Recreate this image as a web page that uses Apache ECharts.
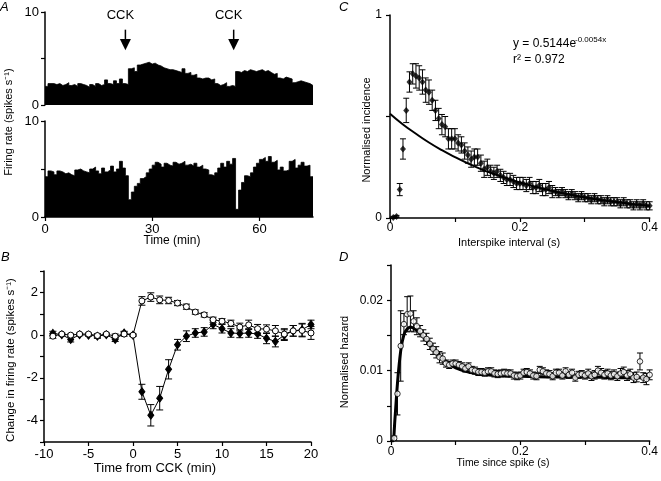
<!DOCTYPE html>
<html><head><meta charset="utf-8">
<script src="https://cdn.jsdelivr.net/npm/echarts@6/dist/echarts.min.js"></script>
<style>html,body{margin:0;padding:0;background:#fff}#c{width:661px;height:481px}</style>
</head><body><div id="c"></div>
<script>
const FONT = '"Liberation Sans", Arial, Helvetica, sans-serif';

// ---------- Panel A: firing-rate histograms (50 s bins, minutes) ----------
const BIN_A = 5 / 6; // minutes per bin
const rateTop = [2.0, 2.3, 2.3, 2.2, 2.3, 2.1, 2.2, 2.4, 2.1, 2.2, 2.0, 2.3, 2.2, 2.1, 1.9, 2.2, 2.0, 2.3, 2.1, 2.2, 2.7, 2.3, 2.2, 2.6, 2.3, 2.8, 2.3, 2.2,
  3.9, 4.0, 3.6, 4.3, 4.4, 4.5, 4.6, 4.4, 4.5, 4.3,
  4.2, 4.0, 3.9, 3.8, 3.8, 3.7, 3.6, 3.5, 3.9, 3.4, 3.5,
  3.2, 3.3, 2.9, 2.8, 2.9, 2.9, 2.7, 2.8,
  2.3, 2.1, 2.2, 2.4, 2.0, 2.1, 2.0,
  3.6, 3.5, 3.7, 3.6, 3.8, 3.7, 3.6, 3.7, 3.8, 3.6, 3.7, 3.5,
  3.3, 3.4, 2.9, 2.8, 3.0, 2.9, 2.8, 2.4, 2.5, 2.6, 2.5, 2.4, 2.3, 2.1];
const rateBottom = [4.2, 4.8, 4.7, 4.4, 4.8, 4.7, 4.5, 4.6, 4.4, 4.3, 4.9, 5.0, 4.8, 4.7, 4.6, 5.0, 5.2, 4.8, 4.5, 5.1, 4.7, 4.9, 5.3, 4.7, 5.0, 5.8, 5.1, 4.3,
  1.8, 2.6, 3.2, 3.5, 4.0, 4.2, 4.6, 5.0, 5.4, 5.7,
  5.5, 5.2, 5.6, 5.4, 5.3, 5.7, 5.5, 5.6, 5.8, 5.4, 5.5,
  5.3, 5.6, 5.2, 5.4, 5.0, 4.9, 4.4, 4.3,
  4.6, 5.1, 5.6, 5.2, 5.8, 5.5, 6.1,
  0.8, 2.8, 3.6, 4.3, 4.2, 4.6, 5.2, 5.6, 6.0, 6.2, 5.8, 6.3,
  5.7, 5.9, 4.9, 5.2, 4.8, 4.9, 5.8, 6.0, 5.1, 5.4, 5.7, 5.3, 5.4, 4.2];
const cckTimes = [22.5, 52.8];
const timeTicksA = [0, 30, 60];

// ---------- Panel B: change in firing rate ----------
const timeB = [-9, -8, -7, -6, -5, -4, -3, -2, -1, 0, 1, 2, 3, 4, 5, 6, 7, 8, 9, 10, 11, 12, 13, 14, 15, 16, 17, 18, 19, 20];
const openB = [-0.05, 0.05, 0, 0.05, 0.05, -0.02, 0.05, -0.05, 0.05, 0, 1.6, 1.78, 1.65, 1.62, 1.5, 1.33, 1.08, 0.95, 0.72, 0.65, 0.55, 0.38, 0.48, 0.3, 0.28, 0.2, 0.05, 0.2, 0.22, 0.1];
const openErrB = [0.1, 0.05, 0.05, 0.05, 0.05, 0.08, 0.05, 0.1, 0.1, 0.05, 0.2, 0.2, 0.18, 0.15, 0.12, 0.12, 0.1, 0.1, 0.12, 0.12, 0.15, 0.18, 0.22, 0.2, 0.2, 0.25, 0.25, 0.25, 0.3, 0.3];
const fillB = [0.08, 0.02, -0.2, 0.02, 0, -0.05, 0.02, -0.2, 0.1, 0, -2.65, -3.75, -2.95, -1.6, -0.45, -0.05, 0.1, 0.15, 0.5, 0.3, 0.1, 0.08, 0.1, 0.05, -0.15, -0.3, 0.0, 0.2, 0.25, 0.5];
const fillErrB = [0.1, 0.05, 0.12, 0.05, 0.05, 0.1, 0.05, 0.1, 0.08, 0.05, 0.35, 0.5, 0.55, 0.45, 0.25, 0.25, 0.2, 0.2, 0.2, 0.2, 0.2, 0.2, 0.2, 0.2, 0.25, 0.25, 0.25, 0.25, 0.3, 0.2];

// ---------- Panels C & D: shared interval bins (s) ----------
const isiBins = [0.005, 0.010, 0.015, 0.020, 0.025, 0.030, 0.035, 0.040, 0.045, 0.050,
  0.055, 0.060, 0.065, 0.070, 0.075, 0.080, 0.085, 0.090, 0.095, 0.100,
  0.105, 0.110, 0.115, 0.120, 0.125, 0.130, 0.135, 0.140, 0.145, 0.150,
  0.155, 0.160, 0.165, 0.170, 0.175, 0.180, 0.185, 0.190, 0.195, 0.200,
  0.205, 0.210, 0.215, 0.220, 0.225, 0.230, 0.235, 0.240, 0.245, 0.250,
  0.255, 0.260, 0.265, 0.270, 0.275, 0.280, 0.285, 0.290, 0.295, 0.300,
  0.305, 0.310, 0.315, 0.320, 0.325, 0.330, 0.335, 0.340, 0.345, 0.350,
  0.355, 0.360, 0.365, 0.370, 0.375, 0.380, 0.385, 0.390, 0.395, 0.400];

// Panel C: normalised incidence
const incidence = [0.003, 0.008, 0.14, 0.34, 0.53, 0.67, 0.71, 0.70, 0.69, 0.67,
  0.63, 0.62, 0.58, 0.53, 0.49, 0.46, 0.45, 0.39, 0.39, 0.39,
  0.37, 0.36, 0.33, 0.31, 0.29, 0.30, 0.30, 0.27, 0.24, 0.25,
  0.23, 0.22, 0.23, 0.21, 0.20, 0.19, 0.19, 0.18, 0.17, 0.17,
  0.17, 0.16, 0.17, 0.15, 0.15, 0.16, 0.14, 0.14, 0.15, 0.13,
  0.13, 0.12, 0.13, 0.12, 0.11, 0.12, 0.11, 0.10, 0.11, 0.10,
  0.10, 0.09, 0.10, 0.09, 0.09, 0.08, 0.09, 0.08, 0.08, 0.08,
  0.07, 0.08, 0.07, 0.07, 0.06, 0.07, 0.06, 0.07, 0.06, 0.06];
const incidenceErr = [0.005, 0.005, 0.03, 0.05, 0.06, 0.05, 0.05, 0.06, 0.06, 0.06,
  0.06, 0.06, 0.05, 0.05, 0.05, 0.05, 0.05, 0.05, 0.05, 0.05,
  0.04, 0.04, 0.04, 0.04, 0.04, 0.04, 0.04, 0.04, 0.04, 0.04,
  0.03, 0.03, 0.03, 0.03, 0.03, 0.03, 0.03, 0.03, 0.03, 0.03,
  0.03, 0.03, 0.03, 0.03, 0.03, 0.03, 0.03, 0.03, 0.03, 0.03,
  0.02, 0.02, 0.02, 0.02, 0.02, 0.02, 0.02, 0.02, 0.02, 0.02,
  0.02, 0.02, 0.02, 0.02, 0.02, 0.02, 0.02, 0.02, 0.02, 0.02,
  0.02, 0.02, 0.02, 0.02, 0.02, 0.02, 0.02, 0.02, 0.02, 0.02];
const fitCx = [0, 0.02, 0.04, 0.06, 0.08, 0.10, 0.12, 0.14, 0.16, 0.18, 0.20, 0.22, 0.24, 0.26, 0.28, 0.30, 0.32, 0.34, 0.36, 0.38, 0.40];
const fitCy = [0.514, 0.461, 0.415, 0.372, 0.334, 0.300, 0.269, 0.241, 0.217, 0.195, 0.175, 0.157, 0.141, 0.126, 0.113, 0.102, 0.091, 0.082, 0.074, 0.066, 0.059];

// Panel D: normalised hazard
const hazard = [0.0004, 0.0067, 0.0135, 0.0166, 0.0180, 0.0181, 0.0170, 0.0163, 0.0156, 0.0150,
  0.0145, 0.0138, 0.0131, 0.0126, 0.0119, 0.0117, 0.0110, 0.0108, 0.0110, 0.0110,
  0.0108, 0.0106, 0.0103, 0.0106, 0.0101, 0.0100, 0.0098, 0.0098, 0.0097, 0.0099,
  0.0099, 0.0096, 0.0095, 0.0096, 0.0097, 0.0096, 0.0096, 0.0093, 0.0092, 0.0093,
  0.0097, 0.0098, 0.0096, 0.0093, 0.0092, 0.0101, 0.0099, 0.0096, 0.0095, 0.0092,
  0.0097, 0.0097, 0.0093, 0.0099, 0.0094, 0.0097, 0.0090, 0.0094, 0.0095, 0.0093,
  0.0096, 0.0092, 0.0094, 0.0100, 0.0097, 0.0094, 0.0096, 0.0093, 0.0095, 0.0092,
  0.0096, 0.0098, 0.0093, 0.0095, 0.0090, 0.0091, 0.0113, 0.0090, 0.0088, 0.0094];
const hazardErr = [0.0003, 0.003, 0.005, 0.0015, 0.0025, 0.0025, 0.0015, 0.0012, 0.0008, 0.0008,
  0.0008, 0.0008, 0.0008, 0.0008, 0.0008, 0.0008, 0.0005, 0.0005, 0.0005, 0.0005,
  0.0005, 0.0005, 0.0005, 0.0005, 0.0005, 0.0005, 0.0005, 0.0005, 0.0005, 0.0005,
  0.0005, 0.0005, 0.0005, 0.0005, 0.0005, 0.0005, 0.0005, 0.0005, 0.0005, 0.0005,
  0.0005, 0.0005, 0.0005, 0.0005, 0.0005, 0.0005, 0.0005, 0.0005, 0.0005, 0.0005,
  0.0005, 0.0005, 0.0005, 0.0005, 0.0005, 0.0005, 0.0005, 0.0005, 0.0005, 0.0005,
  0.0006, 0.0006, 0.0006, 0.0006, 0.0006, 0.0006, 0.0006, 0.0006, 0.0006, 0.0006,
  0.0007, 0.0007, 0.0007, 0.0007, 0.0007, 0.0007, 0.0012, 0.0007, 0.0008, 0.0007];
const fitDx = [0, 0.003, 0.006, 0.01, 0.015, 0.02, 0.025, 0.03, 0.035, 0.04, 0.05, 0.06, 0.07, 0.08, 0.09, 0.10, 0.12, 0.14, 0.16, 0.20, 0.25, 0.30, 0.35, 0.40];
const fitDy = [0, 0, 0.003, 0.0082, 0.0128, 0.0151, 0.0159, 0.0162, 0.0160, 0.0157, 0.0148, 0.0137, 0.0126, 0.0117, 0.0110, 0.0104, 0.0098, 0.0095, 0.0093, 0.0092, 0.0091, 0.0091, 0.0090, 0.0090];

// ---------- helpers ----------
function stepData(values, width, end) {
  const d = values.map((v, i) => [i * width, v]);
  d.push([end, values[values.length - 1]]);
  return d;
}
function pairs(xs, ys) { return xs.map((x, i) => [x, ys[i]]); }
function errorBars(xs, ys, es, xi, yi, cap) {
  return {
    type: 'custom', xAxisIndex: xi, yAxisIndex: yi, z: 2, silent: true, clip: false,
    data: xs.map((x, i) => [x, ys[i], es[i]]),
    encode: { x: 0, y: 1 },
    renderItem(params, api) {
      const x = api.value(0), y = api.value(1), e = api.value(2);
      const hi = api.coord([x, y + e]), lo = api.coord([x, y - e]);
      const st = { stroke: '#000', lineWidth: 1 };
      return { type: 'group', children: [
        { type: 'line', shape: { x1: hi[0], y1: hi[1], x2: lo[0], y2: lo[1] }, style: st },
        { type: 'line', shape: { x1: hi[0] - cap, y1: hi[1], x2: hi[0] + cap, y2: hi[1] }, style: st },
        { type: 'line', shape: { x1: lo[0] - cap, y1: lo[1], x2: lo[0] + cap, y2: lo[1] }, style: st }
      ] };
    }
  };
}
const AX_LINE = { show: true, onZero: false, lineStyle: { color: '#000', width: 1.5 } };
const AX_TICK = { show: true, length: 4, inside: false, lineStyle: { color: '#000', width: 1.2 } };
function lbl(size, margin, extra) {
  return Object.assign({ color: '#000', fontFamily: FONT, fontSize: size, margin: margin }, extra || {});
}
function trimNum(v) { return String(+v.toFixed(4)); }
function txt(x, y, text, size, rot, align) {
  const el = { type: 'text', x: x, y: y,
    style: { text: text, align: align || 'center', verticalAlign: 'middle', font: size + 'px ' + FONT, fill: '#000' } };
  if (rot) el.rotation = Math.PI / 2;
  return el;
}

const option = {
  backgroundColor: '#fff',
  animation: false,
  grid: [
    { left: 45, top: 12, width: 268, height: 93 },
    { left: 45, top: 121, width: 268, height: 96 },
    { left: 44, top: 271, width: 267, height: 171 },
    { left: 390, top: 15, width: 263, height: 203 },
    { left: 391, top: 265, width: 264, height: 176 }
  ],
  xAxis: [
    { gridIndex: 0, type: 'value', min: 0, max: 75, show: false },
    { gridIndex: 1, type: 'value', min: 0, max: 75, axisLine: AX_LINE, splitLine: { show: false },
      axisTick: Object.assign({}, AX_TICK, { customValues: timeTicksA }),
      axisLabel: lbl(13, 6, { customValues: timeTicksA }) },
    { gridIndex: 2, type: 'value', min: -10, max: 20, interval: 5, axisLine: AX_LINE, axisTick: AX_TICK,
      splitLine: { show: false }, axisLabel: lbl(13, 6) },
    { gridIndex: 3, type: 'value', min: 0, max: 0.4, axisLine: AX_LINE, splitLine: { show: false },
      axisTick: Object.assign({}, AX_TICK, { customValues: [0, 0.1, 0.2, 0.3, 0.4] }),
      axisLabel: lbl(12, 4, { customValues: [0, 0.2, 0.4], formatter: trimNum }) },
    { gridIndex: 4, type: 'value', min: 0, max: 0.4, axisLine: AX_LINE, splitLine: { show: false },
      axisTick: Object.assign({}, AX_TICK, { customValues: [0, 0.1, 0.2, 0.3, 0.4] }),
      axisLabel: lbl(12, 5, { customValues: [0, 0.2, 0.4], formatter: trimNum }) }
  ],
  yAxis: [
    { gridIndex: 0, type: 'value', min: 0, max: 10, axisLine: AX_LINE, splitLine: { show: false },
      axisTick: Object.assign({}, AX_TICK, { customValues: [0, 5, 10] }),
      axisLabel: lbl(13, 6, { customValues: [0, 10] }) },
    { gridIndex: 1, type: 'value', min: 0, max: 10, axisLine: AX_LINE, splitLine: { show: false },
      axisTick: Object.assign({}, AX_TICK, { customValues: [0, 5, 10] }),
      axisLabel: lbl(13, 6, { customValues: [0, 10] }) },
    { gridIndex: 2, type: 'value', min: -5, max: 3, interval: 1, axisLine: AX_LINE, axisTick: AX_TICK,
      splitLine: { show: false },
      axisLabel: lbl(13, 6, { formatter: v => (Math.round(v) % 2 === 0 ? String(Math.round(v)) : '') }) },
    { gridIndex: 3, type: 'value', min: 0, max: 1, axisLine: AX_LINE, splitLine: { show: false },
      axisTick: Object.assign({}, AX_TICK, { customValues: [0, 0.5, 1] }),
      axisLabel: lbl(12, 8, { customValues: [0, 1] }) },
    { gridIndex: 4, type: 'value', min: 0, max: 0.025, axisLine: AX_LINE, splitLine: { show: false },
      axisTick: Object.assign({}, AX_TICK, { customValues: [0, 0.005, 0.01, 0.015, 0.02, 0.025] }),
      axisLabel: lbl(12, 8, { customValues: [0, 0.01, 0.02], formatter: trimNum }) }
  ],
  series: [
    // Panel A histograms
    { type: 'line', xAxisIndex: 0, yAxisIndex: 0, step: 'end', symbol: 'none',
      data: stepData(rateTop, BIN_A, 75), lineStyle: { color: '#000', width: 0.8 },
      areaStyle: { color: '#000', opacity: 1 } },
    { type: 'line', xAxisIndex: 1, yAxisIndex: 1, step: 'end', symbol: 'none',
      data: stepData(rateBottom, BIN_A, 75), lineStyle: { color: '#000', width: 0.8 },
      areaStyle: { color: '#000', opacity: 1 } },
    // CCK arrows
    { type: 'custom', xAxisIndex: 0, yAxisIndex: 0, clip: false, silent: true, z: 5,
      data: cckTimes.map(t => [t, 0]),
      renderItem(params, api) {
        const t = api.value(0);
        const pText = api.coord([t, 9.6]);
        const p1 = api.coord([t, 8.1]);
        const p2 = api.coord([t, 7.1]);
        const p3 = api.coord([t, 5.9]);
        return { type: 'group', children: [
          { type: 'text', style: { text: 'CCK', x: pText[0] - 5, y: pText[1], align: 'center', verticalAlign: 'middle',
            font: '13px ' + FONT, fill: '#000' } },
          { type: 'line', shape: { x1: p1[0], y1: p1[1], x2: p2[0], y2: p2[1] }, style: { stroke: '#000', lineWidth: 1.5 } },
          { type: 'polygon', shape: { points: [[p2[0] - 5.5, p2[1]], [p2[0] + 5.5, p2[1]], [p3[0], p3[1]]] }, style: { fill: '#000' } }
        ] };
      } },
    // Panel B
    errorBars(timeB, openB, openErrB, 2, 2, 3.5),
    errorBars(timeB, fillB, fillErrB, 2, 2, 3.5),
    { type: 'line', xAxisIndex: 2, yAxisIndex: 2, data: pairs(timeB, fillB), symbol: 'diamond', symbolSize: [6, 8],
      z: 3, lineStyle: { color: '#000', width: 1 }, itemStyle: { color: '#000', borderColor: '#000', borderWidth: 1 } },
    { type: 'line', xAxisIndex: 2, yAxisIndex: 2, data: pairs(timeB, openB), symbol: 'circle', symbolSize: 6,
      z: 4, lineStyle: { color: '#000', width: 1 }, itemStyle: { color: '#fff', borderColor: '#000', borderWidth: 1 } },
    // Panel C
    errorBars(isiBins, incidence, incidenceErr, 3, 3, 3),
    { type: 'line', xAxisIndex: 3, yAxisIndex: 3, data: pairs(fitCx, fitCy), smooth: true, symbol: 'none',
      z: 3, lineStyle: { color: '#000', width: 2 } },
    { type: 'scatter', xAxisIndex: 3, yAxisIndex: 3, data: pairs(isiBins, incidence), symbol: 'diamond',
      symbolSize: [6, 7], z: 4, itemStyle: { color: '#000' } },
    // Panel D
    errorBars(isiBins, hazard, hazardErr, 4, 4, 3),
    { type: 'line', xAxisIndex: 4, yAxisIndex: 4, data: pairs(fitDx, fitDy), smooth: 0.3, symbol: 'none',
      z: 3, lineStyle: { color: '#000', width: 3 } },
    { type: 'scatter', xAxisIndex: 4, yAxisIndex: 4, data: pairs(isiBins, hazard), symbol: 'circle',
      symbolSize: 5.5, z: 4, itemStyle: { color: '#fff', borderColor: '#000', borderWidth: 1 } }
  ],
  graphic: [
    // panel letters
    { type: 'text', x: 0, y: 1, style: { text: 'A', font: 'italic 13px ' + FONT, fill: '#000' } },
    { type: 'text', x: 1, y: 251, style: { text: 'B', font: 'italic 13px ' + FONT, fill: '#000' } },
    { type: 'text', x: 339, y: 1, style: { text: 'C', font: 'italic 13px ' + FONT, fill: '#000' } },
    { type: 'text', x: 339, y: 251, style: { text: 'D', font: 'italic 13px ' + FONT, fill: '#000' } },
    // axis names
    txt(9, 122, 'Firing rate (spikes s⁻¹)', 11, true),
    txt(172, 241, 'Time (min)', 12),
    txt(11, 360, 'Change in firing rate (spikes s⁻¹)', 11.5, true),
    txt(155, 468, 'Time from CCK (min)', 13),
    txt(367, 130, 'Normalised incidence', 11, true),
    txt(509, 243, 'Interspike interval (s)', 11),
    txt(345, 362, 'Normalised hazard', 11, true),
    txt(503, 463, 'Time since spike (s)', 10.5),
    // fit equation
    txt(513, 44, 'y = 0.5144e', 12, false, 'left'),
    txt(575, 40, '-0.0054x', 8, false, 'left'),
    txt(513, 60, 'r² = 0.972', 12, false, 'left')
  ]
};

const chart = echarts.init(document.getElementById('c'), null, { renderer: 'canvas' });
chart.setOption(option);
</script>
</body></html>
